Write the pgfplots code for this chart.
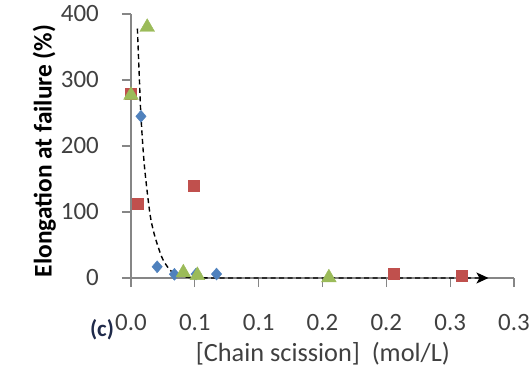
\documentclass[border=0pt]{standalone}
\usepackage{fontspec}
\setmainfont{Carlito}
\usepackage{pgfplots}
\pgfplotsset{compat=1.18}
\usetikzlibrary{arrows.meta}
\definecolor{cblue}{HTML}{4F81BD}
\definecolor{cred}{HTML}{C0504D}
\definecolor{cgreen}{HTML}{9BBB59}
\definecolor{axgray}{HTML}{868686}
\definecolor{txt}{HTML}{404040}
\definecolor{clab}{HTML}{1F2A4A}
\begin{document}
\begin{tikzpicture}
\path[use as bounding box] (0,0) rectangle (531bp,373bp);
\begin{axis}[
  at={(131bp,95bp)}, anchor=south west,
  scale only axis, width=383bp, height=264bp,
  xmin=0, xmax=0.30, ymin=0, ymax=400,
  axis lines*=left,
  axis line style={draw=axgray, line width=1.3bp},
  major tick style={draw=axgray, line width=1.3bp},
  tick align=outside, major tick length=9bp,
  xtick={0,0.05,0.10,0.15,0.20,0.25,0.30},
  xticklabels={0.0,0.1,0.1,0.2,0.2,0.3,0.3},
  ytick={0,100,200,300,400},
  /pgf/number format/assume math mode=true,
  tick label style={font=\fontsize{25}{28}\selectfont, text=txt, inner sep=1bp},
  xticklabel style={yshift=-26bp},
  yticklabel style={xshift=-22bp},
  clip=false,
  xlabel={[Chain scission]\ \ (mol/L)},
  ylabel={\textbf{Elongation at failure (\%)}},
  xlabel style={at={(axis description cs:0.501,-0.288)}, anchor=center, font=\fontsize{26.4}{30}\selectfont, text=txt},
  ylabel style={at={(axis description cs:-0.226,0.481)}, anchor=center, font=\fontsize{25.5}{29}\selectfont, text=black},
]
% dashed trend line
\addplot[black, line width=1.4bp, dash pattern=on 5bp off 3.5bp, smooth, tension=0.5,
  -{Stealth[length=12bp,width=11bp,inset=3bp]}] coordinates {
  (0.005,378) (0.0065,305) (0.0078,245) (0.0105,170) (0.0148,98) (0.018,68)
  (0.0213,47) (0.025,28) (0.0305,12) (0.035,6) (0.041,2) (0.05,0.5)
  (0.07,0) (0.15,0) (0.28,0)};
% blue diamonds
\addplot[only marks, mark=diamond*, mark size=6bp, color=cblue, mark options={fill=cblue, draw=cblue, xscale=1.15}] coordinates {
  (0.0078,245) (0.0205,17) (0.034,5.6) (0.051,6) (0.067,6)};
% red squares
\addplot[only marks, mark=square*, mark size=5.5bp, color=cred, mark options={fill=cred, draw=cred}] coordinates {
  (0.0,280) (0.0055,113) (0.0495,140) (0.206,7) (0.259,4)};
% green triangles
\addplot[only marks, mark=triangle*, mark size=8.5bp, color=cgreen, mark options={fill=cgreen, draw=cgreen}] coordinates {
  (0.0127,380) (0.0,277) (0.041,8) (0.052,4) (0.155,0.5)};
\node[font=\fontsize{23}{27}\selectfont\bfseries, text=clab, inner sep=0.5bp] at (axis description cs:-0.0757,-0.197) {(c)};
\end{axis}
\end{tikzpicture}
\end{document}
